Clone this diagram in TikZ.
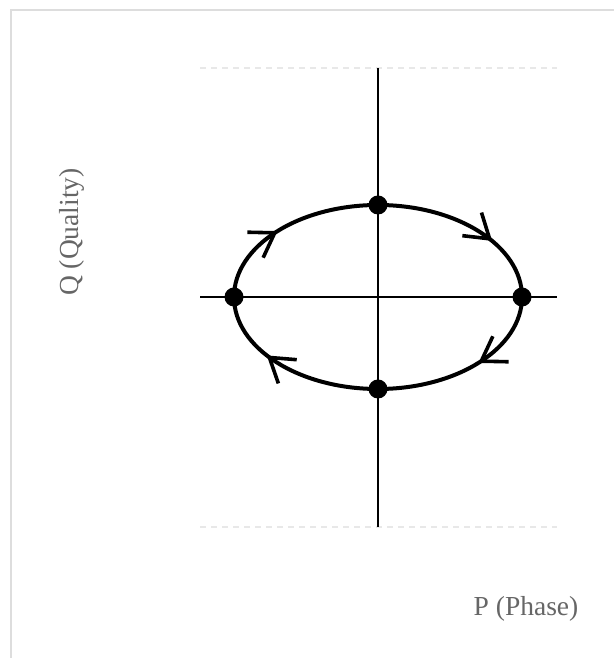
\documentclass[tikz,border=0pt]{standalone}
\usepackage{fontspec}
\setmainfont{Liberation Serif}
\usetikzlibrary{arrows.meta,decorations.markings}
\definecolor{pqgray}{RGB}{102,102,102}
\definecolor{pqframe}{RGB}{221,221,221}
\definecolor{pqguide}{RGB}{232,232,232}

\begin{document}
\begin{tikzpicture}[x=1pt, y=1pt,
  statedot/.style={circle, fill=black, inner sep=0pt, minimum size=19pt},
  axisline/.style={line width=2pt, black},
  guideline/.style={line width=2pt, pqguide, dash pattern=on 6pt off 5pt},
  cyclearc/.style={line width=4pt, decoration={markings, mark=at position #1 with {\arrow{Straight Barb[length=23pt, width=30pt, line width=3.6pt]}}}, postaction={decorate}},
  axislabel/.style={text=pqgray, font=\fontsize{27.5}{33}\selectfont}]
  \useasboundingbox (0,0) rectangle (614,658);

  % Frame
  \draw[pqframe, line width=2pt] (11,0) -- (11,648) -- (614,648);

  % Guides
  \draw[guideline] (200,590) -- (557,590);
  \draw[guideline] (200,131) -- (557,131);

  % Axes
  \draw[axisline] (200,361) -- (557,361);
  \draw[axisline] (378,131) -- (378,590);

  % States
  \node[statedot] (left) at (234,361) {};
  \node[statedot] (top) at (378,453) {};
  \node[statedot] (right) at (522,361) {};
  \node[statedot] (bottom) at (378,269) {};

  % Cycle
  \draw[cyclearc=0.44] (left.center) arc[start angle=180, end angle=90, x radius=144, y radius=92];
  \draw[cyclearc=0.65] (top.center) arc[start angle=90, end angle=0, x radius=144, y radius=92];
  \draw[cyclearc=0.44] (right.center) arc[start angle=0, end angle=-90, x radius=144, y radius=92];
  \draw[cyclearc=0.63] (bottom.center) arc[start angle=-90, end angle=-180, x radius=144, y radius=92];

  % Labels
  \node[axislabel, rotate=90] (qlabel) at (72,426) {Q (Quality)};
  \node[axislabel] (plabel) at (526,49) {P (Phase)};
\end{tikzpicture}
\end{document}
